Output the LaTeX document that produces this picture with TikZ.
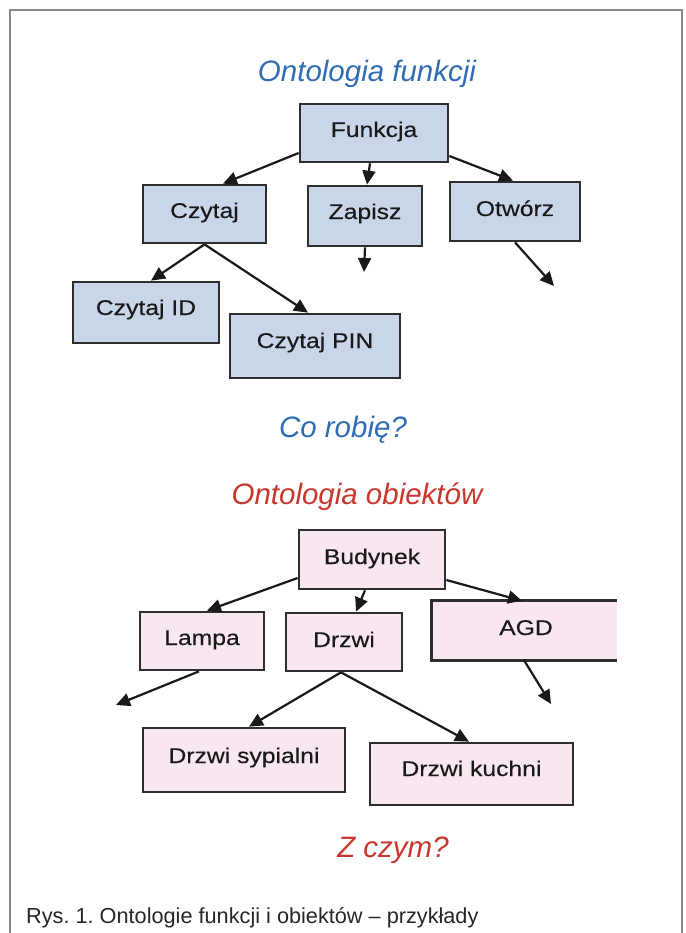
\documentclass[tikz,border=0pt]{standalone}
\usepackage{fontspec}
\setmainfont{Liberation Sans}
\newfontfamily\boxfont[FakeStretch=1.16,FakeBold=0.3]{Liberation Sans}
\usetikzlibrary{arrows.meta,calc}
\definecolor{bfill}{HTML}{C9D6EA}
\definecolor{pfill}{HTML}{F8E7F1}
\definecolor{bord}{HTML}{2E2E2E}
\definecolor{tblue}{HTML}{2F6CB3}
\definecolor{tred}{HTML}{C8372D}
\definecolor{frame}{HTML}{888888}
\tikzset{
  bluebox/.style={draw=bord, line width=2.7pt, fill=bfill, inner sep=0pt},
  pinkbox/.style={draw=bord, line width=2.7pt, fill=pfill, inner sep=0pt},
  boxtext/.style={anchor=base, inner sep=0pt, text=black!90, font=\boxfont\fontsize{21.3}{25}\selectfont},
  titletext/.style={anchor=base, inner sep=0pt, font=\fontsize{29.5}{34}\selectfont\itshape},
  conn/.style={draw=black!90, line width=2.2pt, -{Triangle[length=14pt,width=13pt]}},
}
\begin{document}
\frenchspacing
\begin{tikzpicture}[x=1pt,y=-1pt]
\useasboundingbox (0,0) rectangle (685,933);
\draw[frame, line width=1.3pt] (10,933) -- (10,10) -- (682,10) -- (682,933);

% titles
\node[titletext, text=tblue] (t1) at (367,82) {Ontologia funkcji};
\node[titletext, text=tblue] (t2) at (343,437) {Co robię?};
\node[titletext, text=tred] (t3) at (357,504) {Ontologia obiektów};
\node[titletext, text=tred] (t4) at (393,857) {Z czym?};
\node[anchor=base west, inner sep=0pt, font=\fontsize{21.7}{26}\selectfont, text=black!85] (cap) at (26,923.5) {Rys. 1. Ontologie funkcji i obiektów – przykłady};

% blue boxes
\node[bluebox, minimum width=148pt, minimum height=58pt] (f) at (374,133) {};
\node[bluebox, minimum width=123pt, minimum height=58pt] (c) at (204.5,214) {};
\node[bluebox, minimum width=114pt, minimum height=60pt] (z) at (365,216) {};
\node[bluebox, minimum width=130pt, minimum height=59pt] (o) at (515,211.5) {};
\node[bluebox, minimum width=146pt, minimum height=61pt] (ci) at (146,312.5) {};
\node[bluebox, minimum width=170pt, minimum height=64pt] (cp) at (315,346) {};
\node[boxtext] (ft) at (374,137) {Funkcja};
\node[boxtext] (ct) at (204.5,218) {Czytaj};
\node[boxtext] (zt) at (365,219) {Zapisz};
\node[boxtext] (ot) at (515,216) {Otwórz};
\node[boxtext] (cit) at (146,315) {Czytaj ID};
\node[boxtext] (cpt) at (315,348) {Czytaj PIN};

% pink boxes
\node[pinkbox, minimum width=146pt, minimum height=59pt] (b) at (372,559.5) {};
\node[pinkbox, minimum width=124pt, minimum height=58pt] (l) at (202,641) {};
\node[pinkbox, minimum width=116pt, minimum height=58pt] (d) at (344,642) {};
\node[fill=pfill, draw=none, inner sep=0pt, minimum width=185pt, minimum height=59pt] (a) at (524.5,630.5) {};
\draw[bord, line width=2.7pt] (a.north east) -- (a.north west) -- (a.south west) -- (a.south east);
\node[pinkbox, minimum width=202pt, minimum height=64pt] (ds) at (244,760) {};
\node[pinkbox, minimum width=203pt, minimum height=62pt] (dk) at (471.5,774) {};
\node[boxtext] (bt) at (372,564) {Budynek};
\node[boxtext] (lt) at (202,645) {Lampa};
\node[boxtext] (dt) at (344,647) {Drzwi};
\node[boxtext] (at) at (526,635) {AGD};
\node[boxtext] (dst) at (244,763) {Drzwi sypialni};
\node[boxtext] (dkt) at (471.5,776) {Drzwi kuchni};

% free ends
\coordinate (zend) at (364,272);
\coordinate (oend) at (554,286);
\coordinate (lend) at (116,705);
\coordinate (aend) at (551,704);

% blue connectors
\draw[conn] ($(f.west)+(0,20)$) -- ($(c.north)+(18.5,0)$);
\draw[conn] ($(f.south)+(-4,0)$) -- ($(z.north)+(2,0)$);
\draw[conn] ($(f.east)+(0,23)$) -- ($(o.north)+(-2,0)$);
\draw[conn] (z.south) -- (zend);
\draw[conn] (o.south) -- (oend);
\draw[conn] (c.south) -- ($(ci.north)+(5,0)$);
\draw[conn] (c.south) -- ($(cp.north)+(-7,0)$);

% pink connectors
\draw[conn] ($(b.west)+(0,18.5)$) -- ($(l.north)+(5,0)$);
\draw[conn] ($(b.south)+(-7,0)$) -- ($(d.north)+(12,0)$);
\draw[conn] ($(b.east)+(0,20.5)$) -- ($(a.north)+(-2.5,0)$);
\draw[conn] ($(l.south)+(-3,0)$) -- (lend);
\draw[conn] ($(d.south)+(-3,0)$) -- ($(ds.north)+(5,0)$);
\draw[conn] ($(d.south)+(-3,0)$) -- ($(dk.north)+(-2.5,0)$);
\draw[conn] ($(a.south)+(-0.5,0)$) -- (aend);
\end{tikzpicture}
\end{document}
